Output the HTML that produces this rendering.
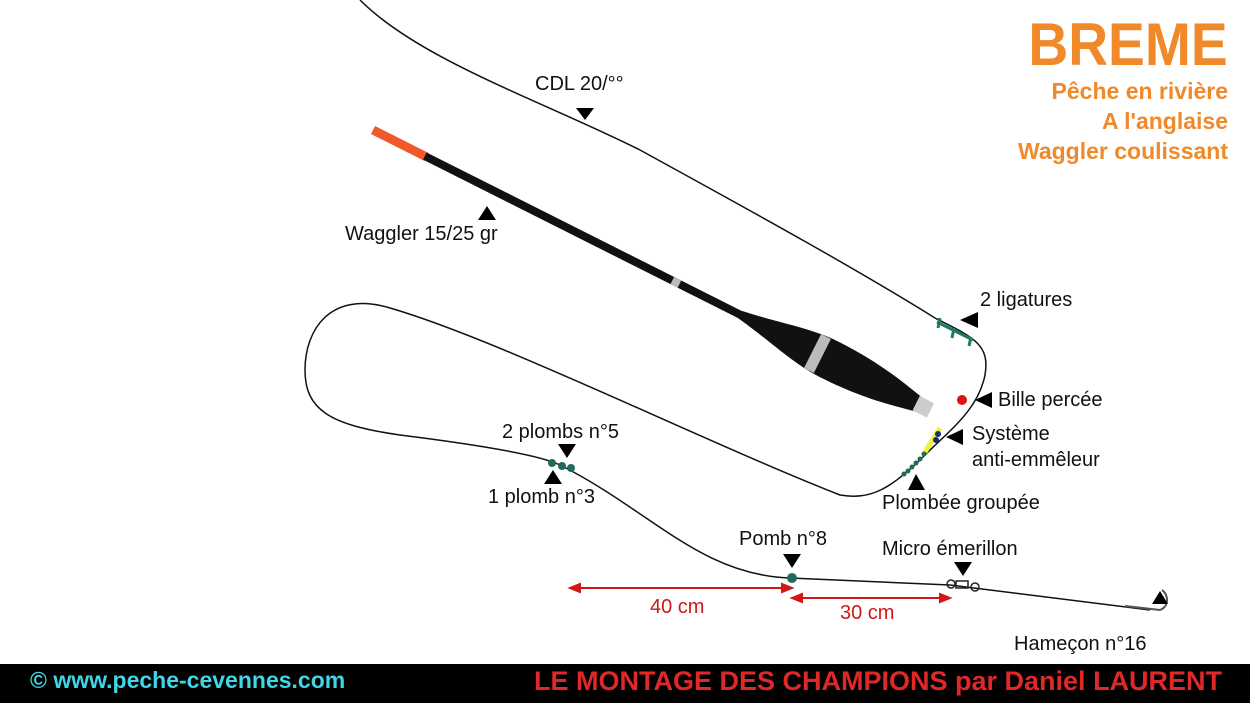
<!DOCTYPE html>
<html><head><meta charset="utf-8"><style>
body{margin:0;background:#fff;width:1250px;height:703px;overflow:hidden;position:relative;font-family:"Liberation Sans",sans-serif}
.t{position:absolute;font-size:20px;color:#111;white-space:nowrap}
.o{position:absolute;color:#f0892a;font-weight:bold;text-align:right;right:22px;white-space:nowrap}
.r{position:absolute;font-size:20px;color:#d01818}
</style></head><body>
<svg width="1250" height="703" style="position:absolute;left:0;top:0">
<path d="M360,0 C420,60 540,100 640,150 C740,205 850,265 935,318 C975,338 990,345 985,375 C978,410 950,430 925,455 C890,490 870,500 840,495 C700,440 500,340 390,308 C330,290 305,330 305,370 C305,410 330,425 400,435 C480,445 540,455 560,465 C650,510 700,575 790,578 L950,585 L1150,610" fill="none" stroke="#111" stroke-width="1.5"/>
<path d="M1125,606 L1160,610 C1170,606 1168,594 1162,590" fill="none" stroke="#555" stroke-width="2"/>
<g transform="translate(373,130) rotate(26.7)">
<rect x="0" y="-4.5" width="60" height="9" fill="#ef5a2a"/>
<rect x="58" y="-4" width="370" height="8" fill="#111"/>
<rect x="335" y="-4" width="8" height="8" fill="#bbb"/>
<path d="M410,-4 C450,-10 480,-20 510,-20 C560,-20 590,-12 610,-8 L610,8 C590,12 560,20 510,20 C480,20 450,10 410,4 Z" fill="#111"/>
<rect x="492" y="-19" width="11" height="38" fill="#bbb"/>
<rect x="608" y="-8" width="16" height="16" fill="#ccc"/>
</g>
<g stroke="#1f7a66" stroke-width="3" fill="none">
<path d="M937,322 L973,340 M940,318 L938,328 M954,328 L952,338 M971,337 L969,346"/>
</g>
<circle cx="962" cy="400" r="5" fill="#e01010"/>
<line x1="940" y1="428" x2="925" y2="452" stroke="#f0f040" stroke-width="5"/>
<circle cx="938" cy="434" r="3" fill="#1a2a6a"/><circle cx="936" cy="440" r="3" fill="#1a2a6a"/>
<g fill="#1f6a5a"><circle cx="924" cy="454" r="2.5"/><circle cx="920" cy="459" r="2.5"/><circle cx="916" cy="463" r="2.5"/><circle cx="912" cy="467" r="2.5"/><circle cx="908" cy="471" r="2.5"/><circle cx="904" cy="474" r="2.5"/>
<circle cx="552" cy="463" r="4"/><circle cx="562" cy="466" r="4"/><circle cx="571" cy="468" r="4"/><circle cx="792" cy="578" r="5"/></g>
<g fill="none" stroke="#222" stroke-width="1.5"><circle cx="951" cy="584" r="4"/><rect x="956" y="581" width="12" height="7"/><circle cx="975" cy="587" r="4"/></g>
<g fill="#000">
<path d="M576,108 L594,108 L585,120Z"/><path d="M478,220 L496,220 L487,206Z"/>
<path d="M960,320 L978,312 L978,328Z"/><path d="M975,400 L992,392 L992,408Z"/>
<path d="M946,437 L963,429 L963,445Z"/><path d="M908,490 L925,490 L916,474Z"/>
<path d="M558,444 L576,444 L567,458Z"/><path d="M544,484 L562,484 L553,470Z"/>
<path d="M783,554 L801,554 L792,568Z"/><path d="M954,562 L972,562 L963,576Z"/>
<path d="M1152,604 L1168,604 L1160,591Z"/>
</g>
<g stroke="#d01818" stroke-width="2" fill="#d01818">
<line x1="575" y1="588" x2="787" y2="588"/><path d="M570,588 L580,584 L580,592Z"/><path d="M792,588 L782,584 L782,592Z"/>
<line x1="797" y1="598" x2="945" y2="598"/><path d="M792,598 L802,594 L802,602Z"/><path d="M950,598 L940,594 L940,602Z"/>
</g>
</svg>
<div class="t" style="left:535px;top:73px">CDL 20/°°</div>
<div class="t" style="left:345px;top:223px">Waggler 15/25 gr</div>
<div class="t" style="left:980px;top:289px">2 ligatures</div>
<div class="t" style="left:998px;top:389px">Bille percée</div>
<div class="t" style="left:972px;top:421px;line-height:26px">Système<br>anti-emmêleur</div>
<div class="t" style="left:882px;top:492px">Plombée groupée</div>
<div class="t" style="left:502px;top:421px">2 plombs n°5</div>
<div class="t" style="left:488px;top:486px">1 plomb n°3</div>
<div class="t" style="left:739px;top:528px">Pomb n°8</div>
<div class="t" style="left:882px;top:538px">Micro émerillon</div>
<div class="t" style="left:1014px;top:633px">Hameçon n°16</div>
<div class="r" style="left:650px;top:596px">40 cm</div>
<div class="r" style="left:840px;top:602px">30 cm</div>
<div class="o" style="top:10px;font-size:60px;transform:scaleX(0.92);transform-origin:right">BREME</div>
<div class="o" style="top:76px;font-size:23px;line-height:30px">Pêche en rivière<br>A l'anglaise<br>Waggler coulissant</div>
<div style="position:absolute;left:0;top:664px;width:1250px;height:39px;background:#000"></div>
<div style="position:absolute;left:30px;top:667px;font-size:23px;font-weight:bold;color:#3fd6e8;white-space:nowrap">© www.peche-cevennes.com</div>
<div style="position:absolute;left:534px;top:666px;font-size:27px;font-weight:bold;color:#e02828;white-space:nowrap">LE MONTAGE DES CHAMPIONS par Daniel LAURENT</div>
</body></html>
